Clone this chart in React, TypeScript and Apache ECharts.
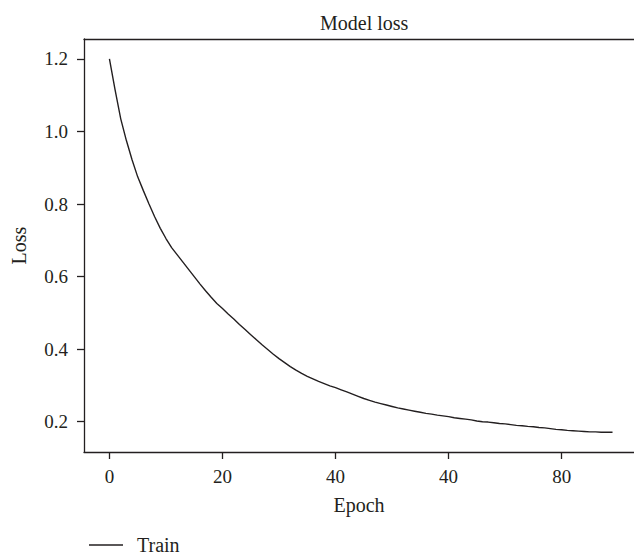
import React, { useEffect, useRef } from "react";
import * as echarts from "echarts";

const titleText = "Model loss";
const xName = "Epoch";
const yName = "Loss";
const seriesName = "Train";

const xTickValues = [0, 20, 40, 60, 80];
const xTickLabels = ["0", "20", "40", "40", "80"];
const yTickValues = [0.2, 0.4, 0.6, 0.8, 1.0, 1.2];

// Training loss per epoch (epochs 0..89)
const trainLoss = [
  1.2, 1.115, 1.035, 0.975, 0.922, 0.875, 0.837, 0.8, 0.765, 0.733,
  0.705, 0.68, 0.66, 0.64, 0.62, 0.6, 0.58, 0.561, 0.543, 0.526,
  0.512, 0.497, 0.483, 0.468, 0.454, 0.44, 0.426, 0.412, 0.399, 0.386,
  0.374, 0.363, 0.352, 0.342, 0.333, 0.325, 0.318, 0.311, 0.305, 0.299,
  0.294, 0.288, 0.282, 0.276, 0.27, 0.264, 0.259, 0.254, 0.25, 0.246,
  0.242, 0.238, 0.235, 0.232, 0.229, 0.226, 0.223, 0.221, 0.218, 0.216,
  0.214, 0.211, 0.209, 0.207, 0.205, 0.202, 0.2, 0.199, 0.197, 0.195,
  0.194, 0.192, 0.19, 0.189, 0.187, 0.186, 0.184, 0.183, 0.181, 0.179,
  0.178, 0.176, 0.175, 0.174, 0.173, 0.172, 0.172, 0.171, 0.171, 0.171,
];

const FONT = "Liberation Serif";
const TEXT = "#231f20";
const AXIS = "#231f20";

export default function App() {
  const ref = useRef<HTMLDivElement>(null);
  useEffect(() => {
    if (!ref.current) return;
    const chart = echarts.init(ref.current, undefined, { renderer: "svg" });
    const xMin = -4.5;
    const xMax = 92.8;
    chart.setOption({
      animation: false,
      backgroundColor: "#ffffff",
      textStyle: { fontFamily: FONT, color: TEXT },
      title: {
        text: titleText,
        left: 315,
        top: 8,
        textStyle: { fontFamily: FONT, fontSize: 20, fontWeight: "normal", color: TEXT },
      },
      legend: {
        left: 84,
        top: 530,
        icon: "rect",
        itemWidth: 34,
        itemHeight: 1.3,
        data: [seriesName],
        itemStyle: { color: TEXT },
        textStyle: { fontFamily: FONT, fontSize: 20, color: TEXT, padding: [0, 0, 0, 9] },
      },
      grid: {
        left: 84,
        right: 0,
        top: 39,
        bottom: 104,
        containLabel: false,
        outerBoundsMode: "none",
      },
      xAxis: [
        {
          type: "value",
          min: xMin,
          max: xMax,
          position: "bottom",
          name: xName,
          nameLocation: "middle",
          nameGap: 43,
          nameTextStyle: { fontFamily: FONT, fontSize: 20, color: TEXT },
          splitLine: { show: false },
          axisLine: { show: true, onZero: false, lineStyle: { color: AXIS, width: 1.3 } },
          axisTick: {
            show: true,
            length: 7,
            customValues: xTickValues,
            lineStyle: { color: AXIS, width: 1.3 },
          },
          axisLabel: {
            customValues: xTickValues,
            margin: 15,
            fontFamily: FONT,
            fontSize: 19,
            color: TEXT,
            formatter: (v: number) => {
              const i = xTickValues.indexOf(Math.round(v));
              return i >= 0 ? xTickLabels[i] : "";
            },
          },
        },
        {
          type: "value",
          min: xMin,
          max: xMax,
          position: "top",
          splitLine: { show: false },
          axisLine: { show: true, onZero: false, lineStyle: { color: AXIS, width: 1.3 } },
          axisTick: { show: false },
          axisLabel: { show: false },
        },
      ],
      yAxis: {
        type: "value",
        min: 0.1165,
        max: 1.255,
        name: yName,
        nameLocation: "middle",
        nameGap: 55,
        nameTextStyle: { fontFamily: FONT, fontSize: 20, color: TEXT },
        splitLine: { show: false },
        axisLine: { show: true, onZero: false, lineStyle: { color: AXIS, width: 1.3 } },
        axisTick: {
          show: true,
          length: 7,
          customValues: yTickValues,
          lineStyle: { color: AXIS, width: 1.3 },
        },
        axisLabel: {
          customValues: yTickValues,
          margin: 16,
          fontFamily: FONT,
          fontSize: 19,
          color: TEXT,
          formatter: (v: number) => v.toFixed(1),
        },
      },
      series: [
        {
          name: seriesName,
          type: "line",
          xAxisIndex: 0,
          data: trainLoss.map((v, i) => [i, v]),
          symbol: "none",
          showSymbol: false,
          lineStyle: { color: "#231f20", width: 1.4 },
          itemStyle: { color: "#231f20" },
        },
      ],
    });
    return () => chart.dispose();
  }, []);
  return <div ref={ref} style={{ width: 634, height: 556, position: "absolute", left: 0, top: 0 }} />;
}
